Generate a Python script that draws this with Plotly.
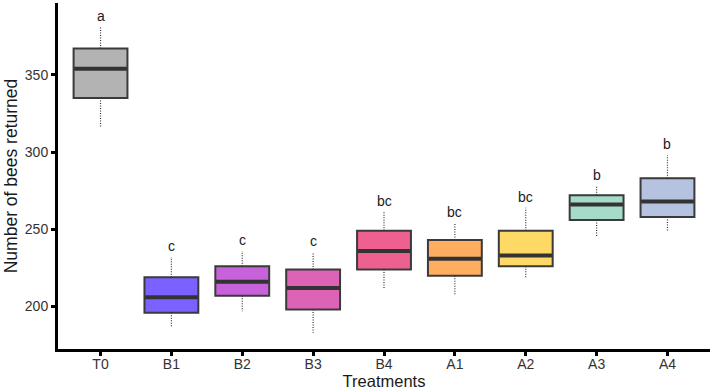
import plotly.graph_objects as go

treatments = ["T0", "B1", "B2", "B3", "B4", "A1", "A2", "A3", "A4"]
lower_whisker = [316, 187, 197, 183, 212, 208, 218, 245, 249]
q1 = [335, 196, 207, 198, 224, 220, 226, 256, 258]
median = [354, 206, 216, 212, 236, 231, 233, 266, 268]
q3 = [367, 219, 226, 224, 249, 243, 249, 272, 283]
upper_whisker = [381, 232, 236, 235, 261, 254, 264, 278, 298]
letters = ["a", "c", "c", "c", "bc", "bc", "bc", "b", "b"]
colors = ["#B3B3B3", "#7B61FF", "#C862DA", "#DD63B6", "#EE6090",
          "#FFAE60", "#FFD966", "#A5DBC8", "#B5C2E0"]

BOX_W = 0.76
xs = list(range(len(treatments)))

fig = go.Figure()

# dotted whiskers
for i in xs:
    fig.add_trace(go.Scatter(
        x=[i, i, None, i, i],
        y=[q3[i], upper_whisker[i], None, q1[i], lower_whisker[i]],
        mode="lines", line=dict(color="#333333", width=1.2, dash="1px,1.5px"),
        showlegend=False, hoverinfo="skip"))

# boxes
for i in xs:
    fig.add_trace(go.Box(
        x=[i], q1=[q1[i]], median=[median[i]], q3=[q3[i]],
        lowerfence=[q1[i]], upperfence=[q3[i]],
        width=BOX_W, whiskerwidth=0,
        fillcolor=colors[i], line=dict(color="#3a3a3a", width=2),
        showlegend=False, boxpoints=False))

# thick median lines
for i in xs:
    fig.add_trace(go.Scatter(
        x=[i - BOX_W / 2 + 0.01, i + BOX_W / 2 - 0.01], y=[median[i], median[i]],
        mode="lines", line=dict(color="#333333", width=4),
        showlegend=False, hoverinfo="skip"))

# significance letters
for i in xs:
    fig.add_annotation(x=i, y=upper_whisker[i], text=letters[i],
                       showarrow=False, yanchor="bottom", yshift=1,
                       font=dict(size=14, color="#1a1a1a",
                                 family="Liberation Sans, Arial, sans-serif"))

fig.update_layout(
    width=713, height=392,
    margin=dict(l=58, r=3, t=3, b=43),
    plot_bgcolor="white", paper_bgcolor="white",
    font=dict(family="Liberation Sans, Arial, sans-serif", color="#1a1a1a"),
    xaxis=dict(
        range=[-0.6, 8.6], tickmode="array", tickvals=xs, ticktext=treatments,
        showline=True, linecolor="black", linewidth=3, showgrid=False,
        zeroline=False, ticks="outside", ticklen=4, tickwidth=3,
        tickcolor="black", tickfont=dict(size=14, color="#333333"),
        ticklabelstandoff=-4,
        title=dict(text="Treatments", font=dict(size=16.5, color="#1a1a1a"),
                   standoff=4)),
    yaxis=dict(
        range=[172.5, 396.5], tickvals=[200, 250, 300, 350],
        showline=True, linecolor="black", linewidth=3, showgrid=False,
        zeroline=False, ticks="outside", ticklen=4, tickwidth=3,
        tickcolor="black", tickfont=dict(size=14, color="#333333"),
        title=dict(text="Number of bees returned",
                   font=dict(size=17.5, color="#1a1a1a"), standoff=3)),
)

fig.write_html("out.html")
